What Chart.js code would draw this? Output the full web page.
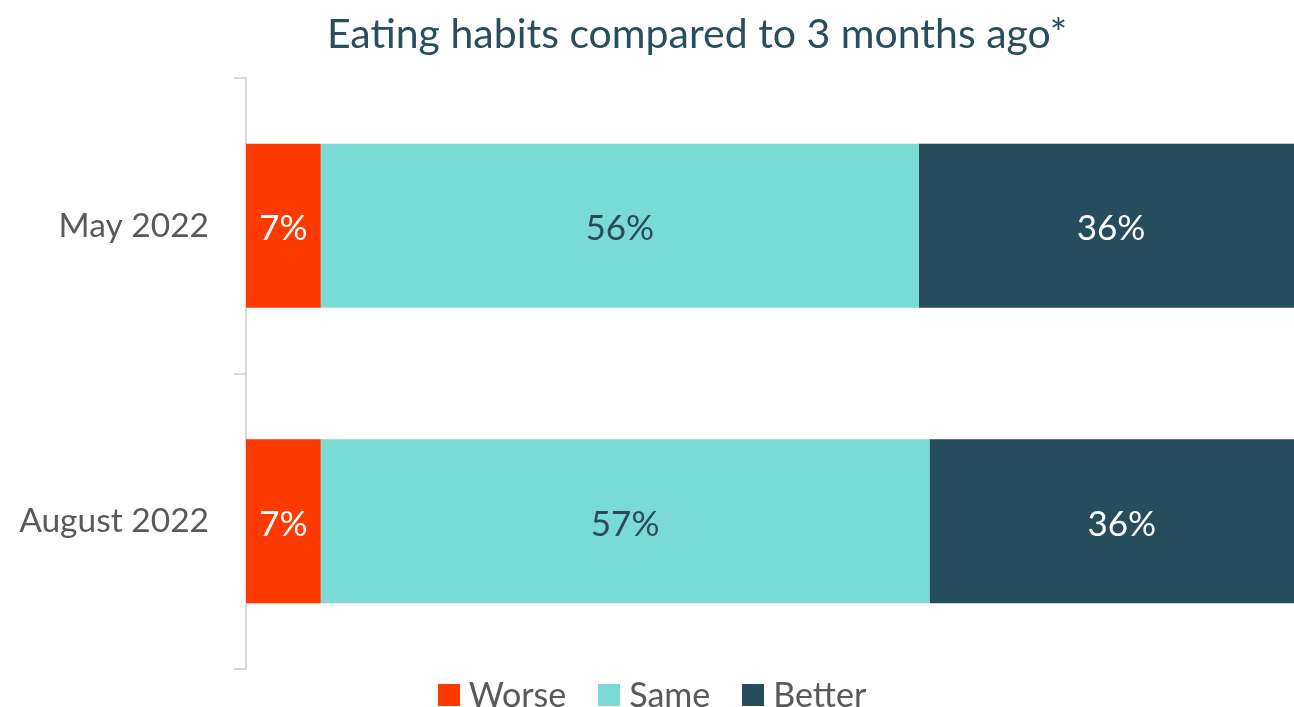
<!DOCTYPE html>
<html>
<head>
<meta charset="utf-8">
<script src="https://cdn.jsdelivr.net/npm/chart.js@4"></script>
<style>
  body { margin: 0; background: #fff; overflow: hidden; }
  #frame { position: relative; width: 1294px; height: 707px; overflow: hidden; font-family: Lato, sans-serif; }
  #title {
    position: absolute; left: 0; top: 8px; width: 1394px;
    text-align: center; font-size: 41px; line-height: 1.2;
    color: #2a4f5c; white-space: nowrap;
  }
  #wrap { position: absolute; left: 0; top: 0; width: 1314px; height: 707px; }
  #legend {
    position: absolute; left: 0; top: 673px; width: 1304px; height: 40px;
    display: flex; justify-content: center; align-items: center;
    font-size: 34px; color: #595959;
  }
  #legend .item { display: flex; align-items: center; margin: 0 16px; }
  #legend .box { width: 22px; height: 22px; margin-right: 9px; margin-top: 3px; }
</style>
</head>
<body>
<div id="frame">
  <div id="wrap"><canvas id="habitsChart"></canvas></div>
  <div id="title">Eating habits compared to 3 months ago*</div>
  <div id="legend"></div>
</div>
<script>
// Survey waves and answer shares (%)
const waves = ["May 2022", "August 2022"];
const worse = [7, 7];
const same = [56, 57];
const better = [36, 36];

const textGray = "#595959";
const fontFamily = "Lato, sans-serif";

// Write the percentage in the middle of every bar segment
const segmentLabels = {
  id: "segmentLabels",
  afterDatasetsDraw(chart) {
    const ctx = chart.ctx;
    ctx.save();
    ctx.font = "35px " + fontFamily;
    ctx.textAlign = "center";
    ctx.textBaseline = "middle";
    chart.data.datasets.forEach((ds, i) => {
      const meta = chart.getDatasetMeta(i);
      meta.data.forEach((bar, j) => {
        const p = bar.getCenterPoint();
        ctx.fillStyle = ds.labelColor;
        ctx.fillText(ds.data[j] + "%", p.x, p.y + 3);
      });
    });
    ctx.restore();
  }
};

document.addEventListener("DOMContentLoaded", () => {
  const ctx = document.getElementById("habitsChart").getContext("2d");
  const chart = new Chart(ctx, {
    type: "bar",
    data: {
      labels: waves,
      datasets: [
        { label: "Worse", data: worse, backgroundColor: "#ff3a00", labelColor: "#ffffff" },
        { label: "Same", data: same, backgroundColor: "#7adbd4", labelColor: "#2d4b57" },
        { label: "Better", data: better, backgroundColor: "#264d5b", labelColor: "#ffffff" },
      ],
    },
    options: {
      indexAxis: "y",
      responsive: true,
      maintainAspectRatio: false,
      animation: false,
      categoryPercentage: 1,
      barPercentage: 0.555,
      layout: { padding: { top: 78, right: 0, bottom: 38, left: 0 } },
      scales: {
        x: { stacked: true, min: 0, max: 100, display: false },
        y: {
          stacked: true,
          // fixed label column, no extra room reserved for the end labels
          afterFit: (scale) => {
            scale.width = 246;
            scale.paddingTop = 0;
            scale.paddingBottom = 0;
          },
          border: { display: true, color: "#d9d9d9", width: 2 },
          grid: { drawOnChartArea: false, drawTicks: true, tickLength: 12, color: "#d9d9d9", lineWidth: 2 },
          ticks: { color: textGray, padding: 25, font: { family: fontFamily, size: 33.5 } },
        },
      },
      plugins: {
        title: { display: false },
        tooltip: { enabled: false },
        legend: { display: false },
      },
    },
    plugins: [segmentLabels],
  });

  // Legend row built from the datasets
  const legend = document.getElementById("legend");
  chart.data.datasets.forEach((ds) => {
    const item = document.createElement("span");
    item.className = "item";
    item.innerHTML = `<span class="box" style="background:${ds.backgroundColor}"></span>${ds.label}`;
    legend.appendChild(item);
  });
});
</script>
</body>
</html>
